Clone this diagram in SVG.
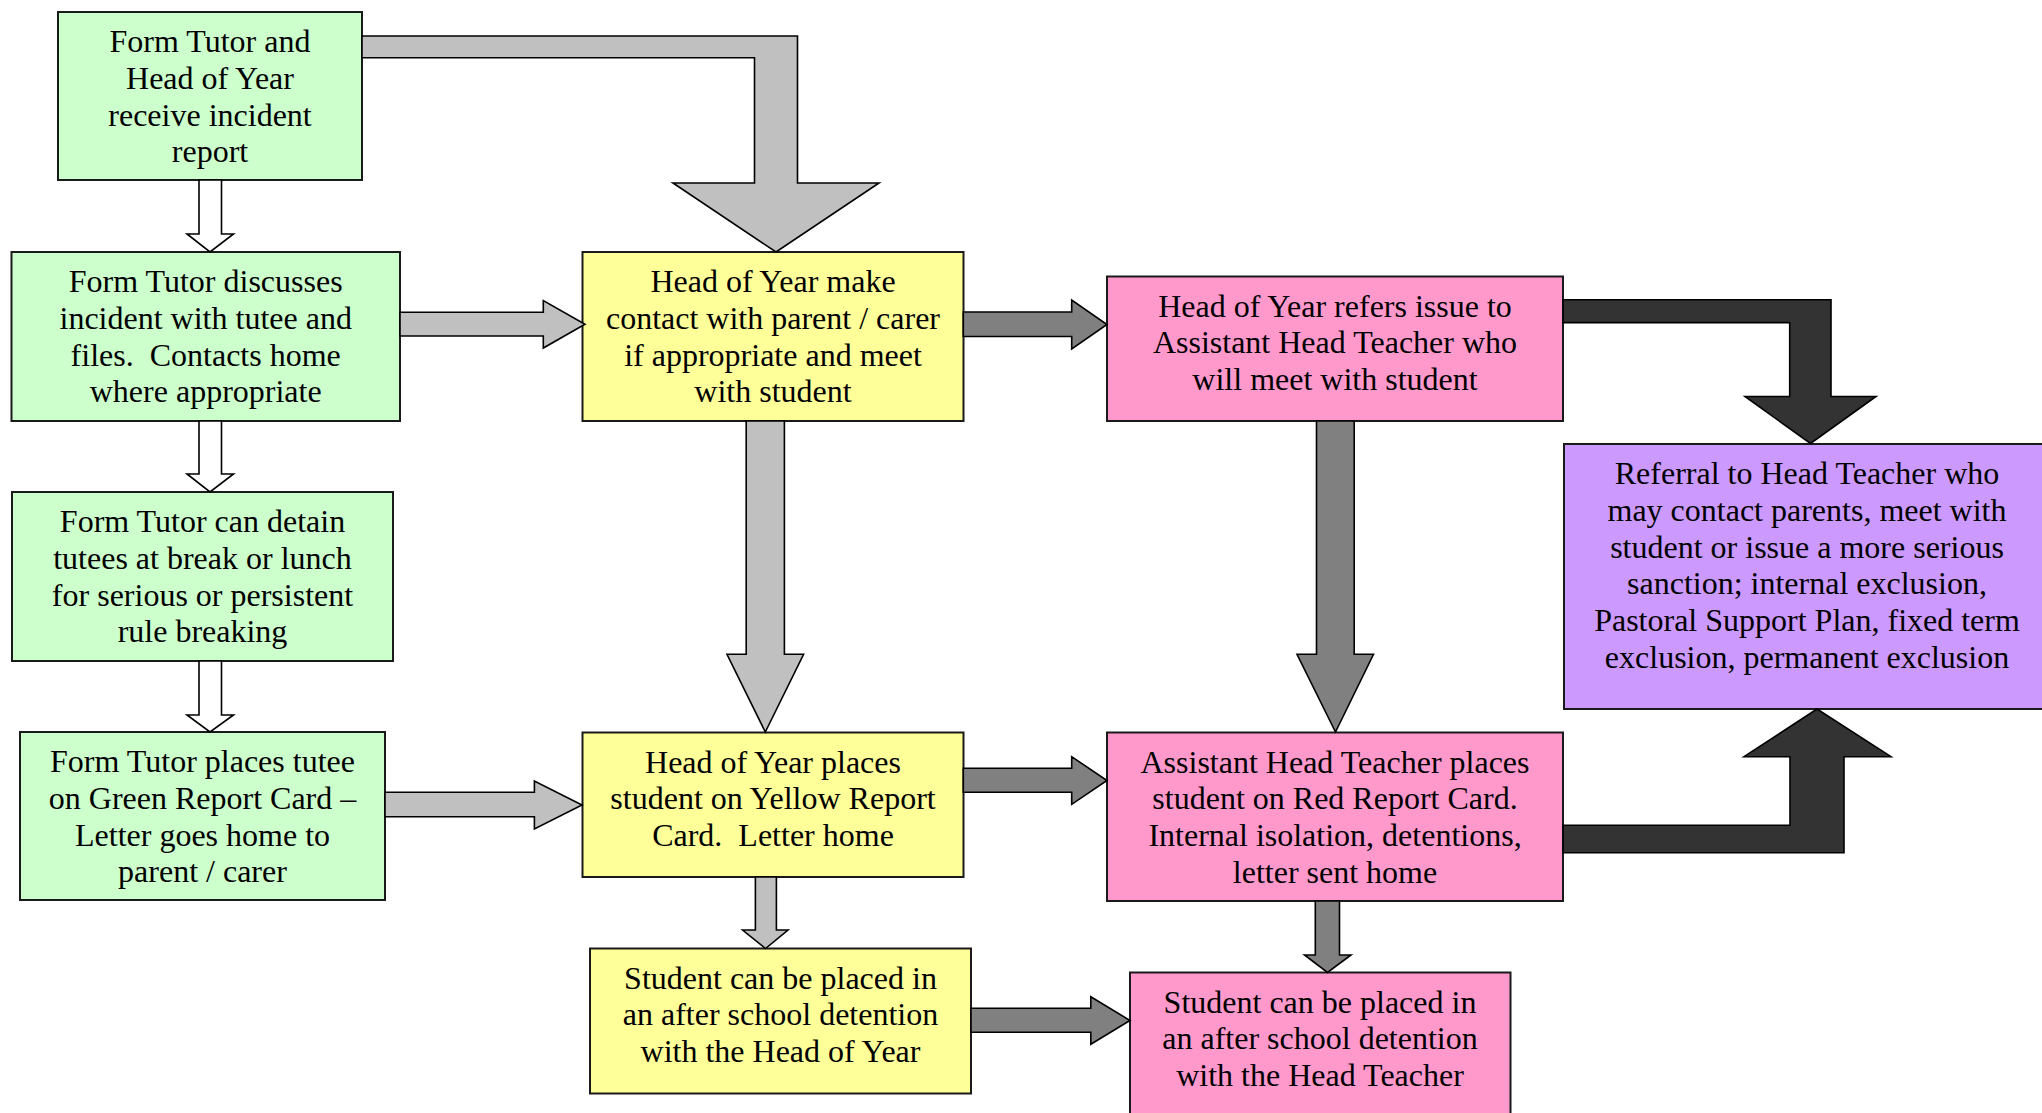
<svg xmlns="http://www.w3.org/2000/svg" width="2042" height="1113" viewBox="0 0 2042 1113">
<style>
.box{stroke:#1a1a1a;stroke-width:2}
.g{fill:#CCFFCC}.y{fill:#FFFF99}.p{fill:#FF99CC}.v{fill:#CC99FF}
.ar{stroke:#000;stroke-width:1.6;stroke-linejoin:miter}
.w{fill:#FFFFFF}.l{fill:#C0C0C0}.m{fill:#808080}.d{fill:#333333}
text{font-family:"Liberation Serif","Times New Roman",serif;font-size:32px;fill:#000;text-anchor:middle}
</style>
<rect width="2042" height="1113" fill="#FFFFFF"/>
<g id="nodes">
<g id="n1"><rect class="box g" x="58" y="12" width="304" height="168"/>
<text x="210" y="52">Form Tutor and</text><text x="210" y="88.8">Head of Year</text><text x="210" y="125.6">receive incident</text><text x="210" y="162.4">report</text></g>
<g id="n2"><rect class="box g" x="11.5" y="252" width="388.5" height="169"/>
<text x="205.7" y="292">Form Tutor discusses</text><text x="205.7" y="328.8">incident with tutee and</text><text x="205.7" y="365.6" xml:space="preserve">files.  Contacts home</text><text x="205.7" y="402.4">where appropriate</text></g>
<g id="n3"><rect class="box g" x="12" y="492" width="381" height="169"/>
<text x="202.5" y="532">Form Tutor can detain</text><text x="202.5" y="568.8">tutees at break or lunch</text><text x="202.5" y="605.6">for serious or persistent</text><text x="202.5" y="642.4">rule breaking</text></g>
<g id="n4"><rect class="box g" x="20" y="732" width="365" height="168"/>
<text x="202.5" y="772">Form Tutor places tutee</text><text x="202.5" y="808.8">on Green Report Card –</text><text x="202.5" y="845.6">Letter goes home to</text><text x="202.5" y="882.4">parent / carer</text></g>
<g id="n5"><rect class="box y" x="582.5" y="252" width="381" height="169"/>
<text x="773" y="292">Head of Year make</text><text x="773" y="328.8">contact with parent / carer</text><text x="773" y="365.6">if appropriate and meet</text><text x="773" y="402.4">with student</text></g>
<g id="n6"><rect class="box p" x="1107" y="276.5" width="456" height="144.5"/>
<text x="1335" y="316.5">Head of Year refers issue to</text><text x="1335" y="353.3">Assistant Head Teacher who</text><text x="1335" y="390.1">will meet with student</text></g>
<g id="n7"><rect class="box v" x="1564" y="444" width="486" height="265"/>
<text x="1807" y="484">Referral to Head Teacher who</text><text x="1807" y="520.8">may contact parents, meet with</text><text x="1807" y="557.6">student or issue a more serious</text><text x="1807" y="594.4">sanction; internal exclusion,</text><text x="1807" y="631.2">Pastoral Support Plan, fixed term</text><text x="1807" y="668">exclusion, permanent exclusion</text></g>
<g id="n8"><rect class="box y" x="582.5" y="732.5" width="381" height="144.5"/>
<text x="773" y="772.5">Head of Year places</text><text x="773" y="809.3">student on Yellow Report</text><text x="773" y="846.1" xml:space="preserve">Card.  Letter home</text></g>
<g id="n9"><rect class="box p" x="1107" y="732.5" width="456" height="168.5"/>
<text x="1335" y="772.5">Assistant Head Teacher places</text><text x="1335" y="809.3">student on Red Report Card.</text><text x="1335" y="846.1">Internal isolation, detentions,</text><text x="1335" y="882.9">letter sent home</text></g>
<g id="n10"><rect class="box y" x="590" y="948.5" width="381" height="145"/>
<text x="780.5" y="988.5">Student can be placed in</text><text x="780.5" y="1025.3">an after school detention</text><text x="780.5" y="1062.1">with the Head of Year</text></g>
<g id="n11"><rect class="box p" x="1130" y="972.5" width="380.5" height="160"/>
<text x="1320" y="1012.5">Student can be placed in</text><text x="1320" y="1049.3">an after school detention</text><text x="1320" y="1086.1">with the Head Teacher</text></g>
</g>
<g id="connectors">
<polygon class="ar w" points="199,180 221.5,180 221.5,234 233.5,234 210,252 187,234 199,234"/>
<polygon class="ar w" points="199,421 221.5,421 221.5,474 233.5,474 210,492 187,474 199,474"/>
<polygon class="ar w" points="199,661 221.5,661 221.5,715 233.5,715 210,732 187,715 199,715"/>
<polygon class="ar l" points="362,36 797.5,36 797.5,183 879,183 776,252 673,183 754.5,183 754.5,57.7 362,57.7"/>
<polygon class="ar l" points="400,312.3 543.3,312.3 543.3,300.5 585,324.2 543.3,348 543.3,336 400,336"/>
<polygon class="ar m" points="963.3,312 1071.7,312 1071.7,300 1107,324.5 1071.7,349 1071.7,336.5 963.3,336.5"/>
<polygon class="ar l" points="746.2,421 784.4,421 784.4,654.3 803.6,654.3 765.3,732 727,654.3 746.2,654.3"/>
<polygon class="ar m" points="1316.5,421 1354.2,421 1354.2,654.3 1373.5,654.3 1335.5,732 1297,654.3 1316.5,654.3"/>
<polygon class="ar l" points="385,792.3 534.4,792.3 534.4,781 582,805 534.4,829 534.4,816.7 385,816.7"/>
<polygon class="ar m" points="963.3,768.3 1071.7,768.3 1071.7,756.7 1107,780.5 1071.7,804.3 1071.7,792.3 963.3,792.3"/>
<polygon class="ar l" points="755.4,877 776.4,877 776.4,930 788,930 765.5,948.5 742.6,930 755.4,930"/>
<polygon class="ar m" points="971,1008.3 1090.8,1008.3 1090.8,996.7 1130,1020.5 1090.8,1044.3 1090.8,1032.3 971,1032.3"/>
<polygon class="ar m" points="1315.3,901 1339.5,901 1339.5,955 1351,955 1327.5,972.5 1304.5,955 1315.3,955"/>
<polygon class="ar d" points="1563,299.8 1831,299.8 1831,396.5 1876,396.5 1810.5,443.5 1745,396.5 1789.7,396.5 1789.7,322.6 1563,322.6"/>
<polygon class="ar d" points="1563,825.3 1790,825.3 1790,756.7 1744,756.7 1817,709 1891,756.7 1844,756.7 1844,852.7 1563,852.7"/>
</g>
</svg>
